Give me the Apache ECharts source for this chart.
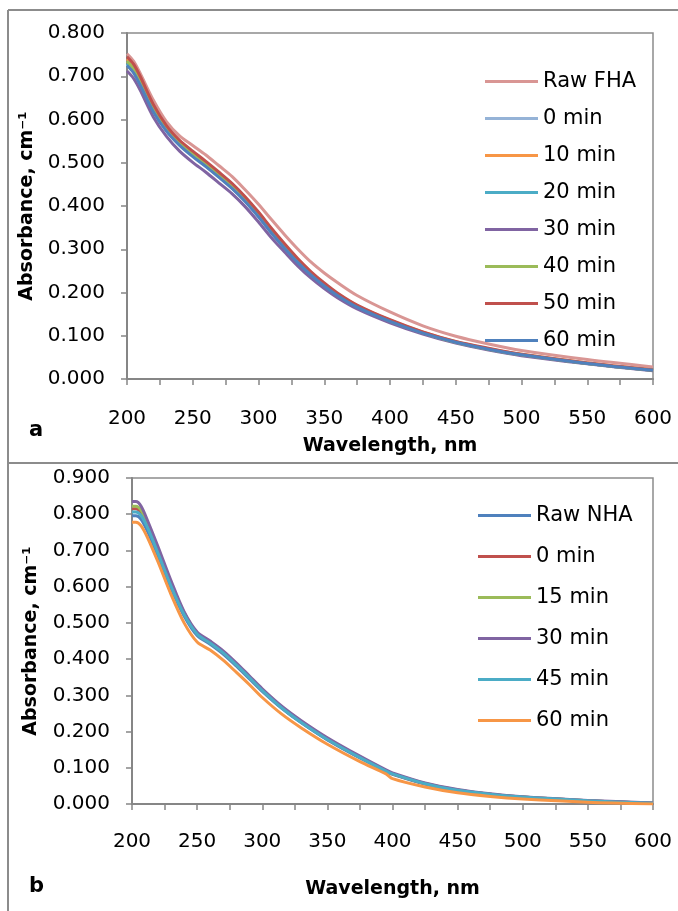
<!DOCTYPE html>
<html>
<head>
<meta charset="utf-8">
<script src="https://cdn.jsdelivr.net/npm/echarts@6/dist/echarts.min.js"></script>
<style>
html,body{margin:0;padding:0;background:#fff;}
#chart{width:678px;height:911px;}
</style>
</head>
<body>
<div id="chart"></div>
<script>
// ---------- Panel a (FHA) ----------
const wlA = [200,205,210,220,230,240,250,260,270,280,290,300,310,320,330,340,350,360,375,400,425,450,475,500,550,600];
const namesA = ['Raw FHA','0 min','10 min','20 min','30 min','40 min','50 min','60 min'];
const rawFHA = [0.752,0.735,0.707,0.645,0.595,0.562,0.540,0.518,0.493,0.468,0.437,0.404,0.368,0.333,0.300,0.270,0.245,0.223,0.193,0.155,0.123,0.099,0.081,0.066,0.045,0.028];
const a0min  = [0.728,0.711,0.683,0.620,0.574,0.541,0.516,0.492,0.467,0.441,0.411,0.376,0.338,0.303,0.270,0.241,0.216,0.193,0.166,0.133,0.106,0.085,0.069,0.056,0.036,0.020];
const a10min = [0.740,0.723,0.696,0.632,0.584,0.550,0.525,0.501,0.476,0.450,0.419,0.384,0.346,0.310,0.276,0.246,0.220,0.197,0.170,0.136,0.108,0.086,0.070,0.057,0.037,0.021];
const a20min = [0.730,0.713,0.685,0.622,0.576,0.542,0.517,0.493,0.468,0.442,0.412,0.377,0.339,0.304,0.270,0.241,0.216,0.194,0.167,0.133,0.106,0.085,0.069,0.056,0.036,0.020];
const a30min = [0.712,0.695,0.668,0.606,0.561,0.527,0.501,0.478,0.453,0.428,0.398,0.363,0.326,0.293,0.261,0.233,0.209,0.188,0.162,0.130,0.104,0.083,0.067,0.054,0.035,0.019];
const a40min = [0.735,0.718,0.690,0.626,0.579,0.545,0.520,0.496,0.471,0.445,0.414,0.379,0.341,0.306,0.272,0.243,0.217,0.195,0.168,0.134,0.107,0.085,0.069,0.056,0.036,0.020];
const a50min = [0.745,0.728,0.700,0.635,0.586,0.552,0.527,0.503,0.478,0.452,0.421,0.386,0.348,0.312,0.278,0.248,0.222,0.199,0.171,0.137,0.109,0.087,0.071,0.057,0.037,0.021];
const a60min = [0.725,0.708,0.680,0.618,0.573,0.540,0.514,0.491,0.466,0.440,0.410,0.375,0.337,0.302,0.269,0.240,0.215,0.193,0.166,0.133,0.106,0.085,0.069,0.056,0.036,0.020];
const seriesA = [rawFHA,a0min,a10min,a20min,a30min,a40min,a50min,a60min];
const colorsA = ['#d99694','#95b3d7','#f79646','#4bacc6','#8064a2','#9bbb59','#c0504d','#4f81bd'];
const yTicksA = {min:0, max:0.8, interval:0.1};

// ---------- Panel b (NHA) ----------
const wlB = [200,203,207,212,220,230,240,250,260,270,280,290,300,315,330,350,375,395,400,425,450,475,500,550,600];
const namesB = ['Raw NHA','0 min','15 min','30 min','45 min','60 min'];
const rawNHA = [0.796,0.796,0.786,0.752,0.685,0.595,0.519,0.465,0.441,0.414,0.381,0.346,0.311,0.264,0.224,0.177,0.127,0.090,0.082,0.055,0.037,0.026,0.018,0.008,0.002];
const b0min  = [0.815,0.815,0.804,0.768,0.697,0.605,0.525,0.470,0.445,0.418,0.385,0.350,0.314,0.266,0.226,0.179,0.129,0.091,0.083,0.056,0.038,0.027,0.019,0.009,0.002];
const b15min = [0.822,0.822,0.811,0.774,0.702,0.609,0.528,0.472,0.447,0.420,0.387,0.352,0.316,0.268,0.228,0.181,0.130,0.092,0.084,0.057,0.039,0.027,0.019,0.009,0.002];
const b30min = [0.835,0.835,0.822,0.782,0.710,0.616,0.531,0.475,0.450,0.423,0.390,0.354,0.318,0.270,0.230,0.183,0.132,0.094,0.086,0.058,0.040,0.028,0.020,0.010,0.003];
const b45min = [0.806,0.806,0.796,0.762,0.692,0.601,0.523,0.469,0.444,0.417,0.384,0.349,0.313,0.265,0.225,0.178,0.128,0.091,0.083,0.056,0.038,0.027,0.019,0.009,0.002];
const b60min = [0.778,0.778,0.768,0.735,0.668,0.578,0.500,0.447,0.425,0.397,0.364,0.330,0.294,0.248,0.210,0.165,0.117,0.083,0.070,0.047,0.031,0.021,0.014,0.005,0.000];
const seriesB = [rawNHA,b0min,b15min,b30min,b45min,b60min];
const colorsB = ['#4f81bd','#c0504d','#9bbb59','#8064a2','#4bacc6','#f79646'];
const yTicksB = {min:0, max:0.9, interval:0.1};

const xTicks = {min:200, max:600, interval:50};

const FONT = 'DejaVu Sans';
const axisGray = '#868686';

function xAxisCfg(gridIndex, gap, margin){
  return {
    type:'value', gridIndex, min:xTicks.min, max:xTicks.max, interval:xTicks.interval,
    name:'Wavelength, nm', nameLocation:'middle', nameGap:gap,
    nameTextStyle:{fontFamily:FONT, fontWeight:'bold', fontSize:19, color:'#000'},
    axisLine:{show:true, onZero:false, lineStyle:{color:axisGray, width:2}},
    axisTick:{show:true, length:6, lineStyle:{color:axisGray, width:1.5}},
    minorTick:{show:true, splitNumber:2, length:6, lineStyle:{color:axisGray, width:1.5}},
    axisLabel:{fontFamily:FONT, fontSize:20, color:'#000', margin:margin},
    splitLine:{show:false}
  };
}
function yAxisCfg(gridIndex, ticks, gap){
  return {
    type:'value', gridIndex, min:ticks.min, max:ticks.max, interval:ticks.interval,
    name:'Absorbance, cm⁻¹', nameLocation:'middle', nameGap:gap, nameRotate:90,
    nameTextStyle:{fontFamily:FONT, fontWeight:'bold', fontSize:19, color:'#000'},
    axisLine:{show:true, onZero:false, lineStyle:{color:axisGray, width:2}},
    axisTick:{show:true, length:6, lineStyle:{color:axisGray, width:1.5}},
    axisLabel:{fontFamily:FONT, fontSize:20, color:'#000', margin:22,
      formatter:v=>v.toFixed(3)},
    splitLine:{show:false}
  };
}

const series = [];
seriesA.forEach((vals,i)=>{
  series.push({
    name:namesA[i], type:'line', xAxisIndex:0, yAxisIndex:0,
    data: wlA.map((w,j)=>[w, vals[j]]),
    symbol:'none', showSymbol:false, smooth:0.3,
    lineStyle:{width:3, color:colorsA[i]}, itemStyle:{color:colorsA[i]}
  });
});
seriesB.forEach((vals,i)=>{
  series.push({
    name:namesB[i] + ' ', type:'line', xAxisIndex:1, yAxisIndex:1,
    data: wlB.map((w,j)=>[w, vals[j]]),
    symbol:'none', showSymbol:false, smooth:0.3,
    lineStyle:{width:3, color:colorsB[i]}, itemStyle:{color:colorsB[i]}
  });
});

const legendText = {fontFamily:FONT, fontSize:21, color:'#000', lineHeight:20};
const chart = echarts.init(document.getElementById('chart'), null, {renderer:'canvas'});
chart.setOption({
  backgroundColor:'#fff',
  animation:false,
  grid:[
    {left:127, top:33, width:526, height:346, show:true, borderColor:'#8c8c8c', borderWidth:1.5, containLabel:false},
    {left:132, top:478, width:521, height:326, show:true, borderColor:'#8c8c8c', borderWidth:1.5, containLabel:false}
  ],
  xAxis:[xAxisCfg(0,58,30), xAxisCfg(1,76,28)],
  yAxis:[yAxisCfg(0,yTicksA,86), yAxisCfg(1,yTicksB,91)],
  legend:[
    {orient:'vertical', left:480, top:66, itemWidth:53, itemHeight:3, itemGap:16, icon:'rect',
     textStyle:legendText, data:namesA, selectedMode:false},
    {orient:'vertical', left:473, top:500, itemWidth:53, itemHeight:3, itemGap:20, icon:'rect',
     textStyle:legendText, data:namesB.map(n=>n+' '), selectedMode:false}
  ],
  graphic:[
    {type:'line', shape:{x1:8, y1:10, x2:678, y2:10}, style:{stroke:'#8c8c8c', lineWidth:2}},
    {type:'line', shape:{x1:8, y1:10, x2:8, y2:911}, style:{stroke:'#8c8c8c', lineWidth:2}},
    {type:'line', shape:{x1:8, y1:463, x2:678, y2:463}, style:{stroke:'#8c8c8c', lineWidth:2}},
    {type:'text', left:29, top:420, style:{text:'a', font:'bold 21px "DejaVu Sans"', fill:'#000'}},
    {type:'text', left:29, top:876, style:{text:'b', font:'bold 21px "DejaVu Sans"', fill:'#000'}}
  ],
  series
});
</script>
</body>
</html>
